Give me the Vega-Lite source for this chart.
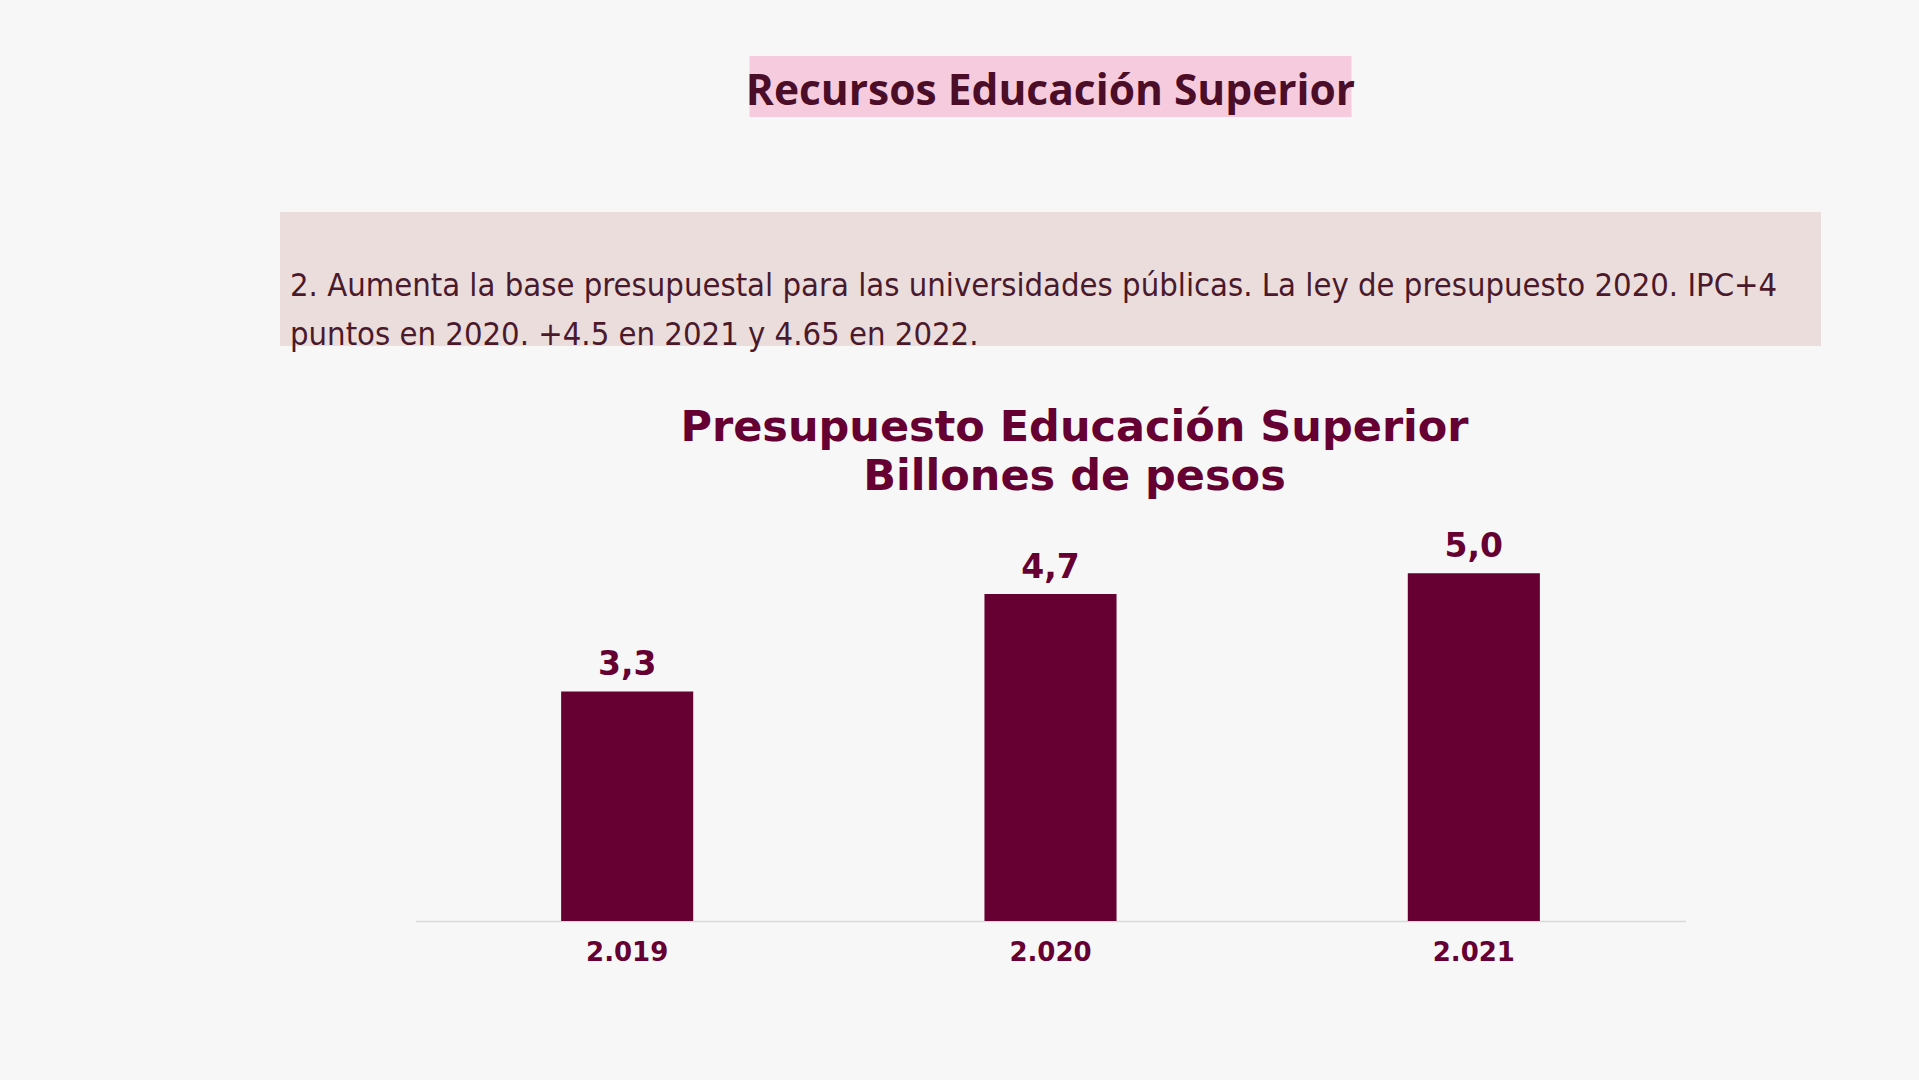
{
  "$schema": "https://vega.github.io/schema/vega-lite/v6.json",
  "background": "#f7f7f7",
  "padding": {"left": 280, "top": 56, "right": 98, "bottom": 118},
  "config": {
    "locale": {"number": {"decimal": ",", "thousands": ".", "grouping": [3], "currency": ["$", ""]}},
    "view": {"stroke": null}
  },
  "bounds": "flush",
  "center": true,
  "spacing": 95,
  "vconcat": [
    {
      "width": 602,
      "height": 61,
      "view": {"fill": "#f5cbdd", "stroke": null},
      "data": {"values": [{"titulo": "Recursos Educación Superior"}]},
      "mark": {"type": "text", "font": "Open Sans", "fontWeight": "bold", "fontSize": 42.5, "color": "#4b0d27", "align": "center", "baseline": "middle", "dy": 5},
      "encoding": {"text": {"field": "titulo", "type": "nominal"}}
    },
    {
      "width": 1541,
      "height": 134,
      "view": {"fill": "#ecdddd", "stroke": null},
      "title": {
        "text": ["2. Aumenta la base presupuestal para las universidades públicas. La ley de presupuesto 2020.  IPC+4", "puntos en 2020. +4.5 en 2021 y 4.65 en 2022."],
        "anchor": "start",
        "frame": "group",
        "orient": "top",
        "offset": -139,
        "dx": 10,
        "font": "'Liberation Sans Narrow', 'DejaVu Sans Condensed', sans-serif",
        "fontSize": 32.5,
        "fontWeight": "normal",
        "color": "#4a1a2c",
        "lineHeight": 49
      },
      "data": {"values": []},
      "mark": "text",
      "encoding": {}
    },
    {
      "width": 1270,
      "height": 480,
      "title": {
        "text": ["Presupuesto Educación Superior", "Billones de pesos"],
        "font": "DejaVu Sans",
        "fontSize": 43,
        "fontWeight": "bold",
        "color": "#660033",
        "lineHeight": 49,
        "anchor": "middle",
        "frame": "group",
        "offset": -58,
        "dx": 24
      },
      "data": {"values": [
        {"anio": "2.019", "valor": 3.3},
        {"anio": "2.020", "valor": 4.7},
        {"anio": "2.021", "valor": 5.0}
      ]},
      "encoding": {
        "x": {
          "field": "anio", "type": "ordinal", "sort": null,
          "scale": {"paddingInner": 0.688, "paddingOuter": 0.344},
          "axis": {"title": null, "labelAngle": 0, "labelFont": "DejaVu Sans", "labelFontWeight": "bold", "labelFontSize": 26, "labelColor": "#660033", "ticks": false, "tickSize": 0, "domainColor": "#d9d9d9", "domainWidth": 1.5, "labelPadding": 18, "grid": false}
        },
        "y": {"field": "valor", "type": "quantitative", "scale": {"domain": [0, 6.9], "nice": false}, "axis": null}
      },
      "layer": [
        {"mark": {"type": "bar", "color": "#660033"}},
        {
          "mark": {"type": "text", "dy": -16, "baseline": "alphabetic", "font": "DejaVu Sans", "fontWeight": "bold", "fontSize": 33, "color": "#660033"},
          "encoding": {"text": {"field": "valor", "type": "quantitative", "format": ".1f"}}
        }
      ]
    }
  ]
}
